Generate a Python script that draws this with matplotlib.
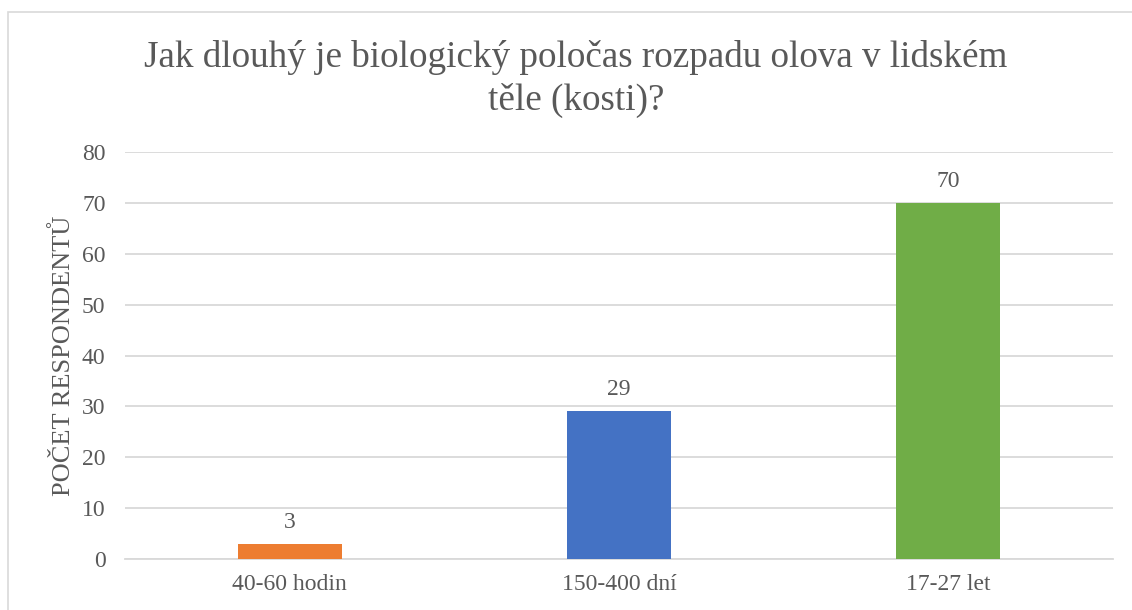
import matplotlib
matplotlib.use('Agg')
import matplotlib.pyplot as plt
from matplotlib.patches import Rectangle

categories = ['40-60 hodin', '150-400 dní', '17-27 let']
counts = [3, 29, 70]
bar_colors = ['#ED7D31', '#4472C4', '#70AD47']
title = 'Jak dlouhý je biologický poločas rozpadu olova v lidském\ntěle (kosti)?'
ylabel = 'POČET RESPONDENTŮ'

plt.rcParams['font.family'] = ['Liberation Serif', 'DejaVu Serif']
text_color = '#595959'
grid_color = '#d9d9d9'

fig = plt.figure(figsize=(11.32, 6.10), dpi=100)
ax = fig.add_axes([125 / 1132, 1 - 559 / 610, (1113 - 125) / 1132, (559 - 152) / 610])

# chart frame (only left/top edges are inside the picture)
fig.patches.append(Rectangle((8 / 1132, -0.1), 1.2, 1.1 - 12 / 610,
                             transform=fig.transFigure, fill=False,
                             edgecolor=grid_color, linewidth=1.2))

x = range(len(categories))
bars = ax.bar(x, counts, width=0.315, color=bar_colors, zorder=3)

for rect, v in zip(bars, counts):
    ax.annotate(str(v), (rect.get_x() + rect.get_width() / 2, v),
                textcoords='offset points', xytext=(0, 8),
                ha='center', va='bottom', fontsize=17, color=text_color)

ax.set_xlim(-0.5, 2.5)
ax.set_ylim(0, 80)
ax.set_yticks(range(0, 81, 10))
ax.set_xticks(list(x))
ax.set_xticklabels(categories)
ax.yaxis.grid(True, color=grid_color, linewidth=1.3, zorder=0)
ax.set_axisbelow(True)
for s in ['top', 'right', 'left']:
    ax.spines[s].set_visible(False)
ax.spines['bottom'].set_color(grid_color)
ax.spines['bottom'].set_linewidth(1.3)
ax.tick_params(axis='both', length=0, labelsize=17, labelcolor=text_color)
ax.tick_params(axis='y', pad=14)
ax.tick_params(axis='x', pad=11)

ax.set_ylabel(ylabel, fontsize=19, color=text_color, labelpad=5)
fig.text(576 / 1132, 1 - 79 / 610, title, ha='center', va='center',
         fontsize=26.7, color=text_color, linespacing=1.3)

fig.savefig('out.png', dpi=100)
